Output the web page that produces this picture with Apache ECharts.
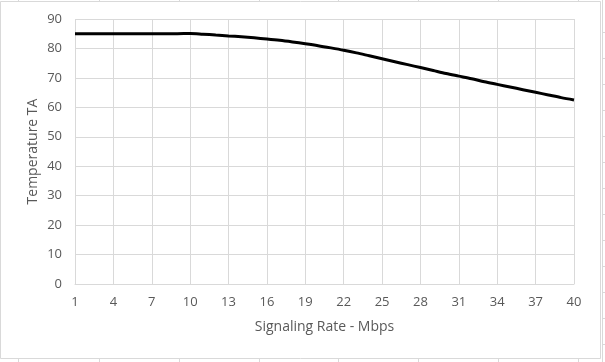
<!DOCTYPE html>
<html>
<head>
<meta charset="utf-8">
<script src="https://cdn.jsdelivr.net/npm/echarts@6/dist/echarts.min.js"></script>
<style>
html,body{margin:0;padding:0;background:#fff;}
#c{width:605px;height:362px;}
</style>
</head>
<body>
<div id="c"></div>
<script>
var categories = [];
for (var i = 1; i <= 40; i++) categories.push(String(i));
var temperature = [
  85, 85, 85, 85, 85, 85, 85, 85, 85, 85.1,
  84.85, 84.55, 84.25, 83.95, 83.6, 83.2, 82.75, 82.2, 81.6, 80.95,
  80.2, 79.4, 78.5, 77.5, 76.5, 75.5, 74.5, 73.5, 72.5, 71.5,
  70.6, 69.7, 68.7, 67.8, 66.9, 66.0, 65.1, 64.2, 63.3, 62.5
];
var yAxisName = 'Temperature TA';
var xAxisName = 'Signaling Rate - Mbps';

var chart = echarts.init(document.getElementById('c'), null, {renderer: 'canvas'});

var gridColor = '#d9d9d9';
var textColor = '#595959';
var graphics = [];
graphics.push({type: 'rect', shape: {x: 0.5, y: 1.5, width: 600, height: 357}, style: {fill: null, stroke: gridColor, lineWidth: 1}, silent: true});
graphics.push({type: 'line', shape: {x1: 602.5, y1: 0, x2: 602.5, y2: 362}, style: {stroke: gridColor, lineWidth: 1}, silent: true});
var cols = [18, 99, 179, 259, 338, 418, 498, 578];
cols.forEach(function (x) {
  graphics.push({type: 'line', shape: {x1: x + 0.5, y1: 0, x2: x + 0.5, y2: 1}, style: {stroke: gridColor, lineWidth: 1}, silent: true});
  graphics.push({type: 'line', shape: {x1: x + 0.5, y1: 359, x2: x + 0.5, y2: 362}, style: {stroke: gridColor, lineWidth: 1}, silent: true});
});
for (var r = 32; r < 362; r += 26) {
  graphics.push({type: 'line', shape: {x1: 603, y1: r + 0.5, x2: 605, y2: r + 0.5}, style: {stroke: gridColor, lineWidth: 1}, silent: true});
}

chart.setOption({
  animation: false,
  backgroundColor: '#fff',
  graphic: graphics,
  grid: {left: 75, right: 31, top: 19, bottom: 78, containLabel: false},
  xAxis: {
    type: 'category',
    data: categories,
    boundaryGap: false,
    name: xAxisName,
    nameLocation: 'middle',
    nameGap: 36,
    nameTextStyle: {color: textColor, fontSize: 14, fontFamily: 'Open Sans'},
    axisLine: {show: true, lineStyle: {color: gridColor, width: 1}},
    axisTick: {show: false},
    axisLabel: {interval: 2, color: textColor, fontSize: 13, fontFamily: 'Open Sans', margin: 12},
    splitLine: {show: true, interval: 2, lineStyle: {color: gridColor, width: 1}}
  },
  yAxis: {
    type: 'value',
    min: 0,
    max: 90,
    interval: 10,
    name: yAxisName,
    nameLocation: 'middle',
    nameGap: 35,
    nameMoveOverlap: false,
    nameRotate: 90,
    nameTextStyle: {color: textColor, fontSize: 14, fontFamily: 'Open Sans'},
    axisLine: {show: false},
    axisTick: {show: false},
    axisLabel: {color: textColor, fontSize: 13, fontFamily: 'Open Sans', margin: 13},
    splitLine: {show: true, lineStyle: {color: gridColor, width: 1}}
  },
  series: [{
    type: 'line',
    data: temperature,
    showSymbol: false,
    smooth: 0.3,
    lineStyle: {color: '#000', width: 3},
    itemStyle: {color: '#000'}
  }]
});
</script>
</body>
</html>
